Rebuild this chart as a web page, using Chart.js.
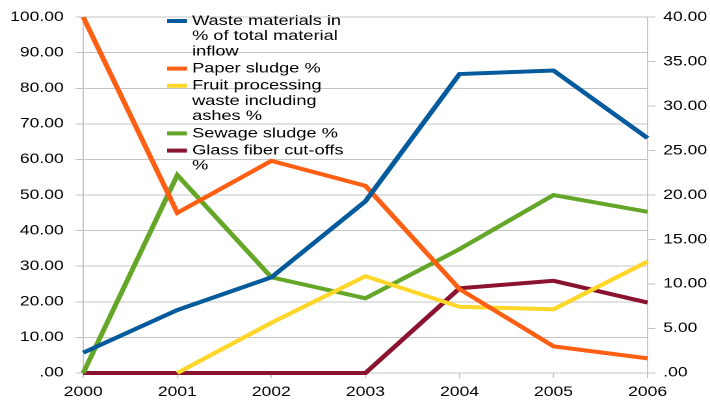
<!DOCTYPE html>
<html>
<head>
<meta charset="utf-8">
<script src="https://cdn.jsdelivr.net/npm/chart.js@4/dist/chart.umd.min.js"></script>
<style>
  html, body { margin: 0; padding: 0; background: #fff; overflow: hidden; }
  #wrap { width: 546px; height: 401px; transform: scaleX(1.3004); transform-origin: 0 0; }
</style>
</head>
<body>
<div id="wrap"><canvas id="c" width="546" height="401"></canvas></div>
<script>
// Years on the category axis
const years = ['2000', '2001', '2002', '2003', '2004', '2005', '2006'];

// Waste materials in % of total material inflow (right axis, 0-40)
const wasteShare = [2.28, 7.08, 10.75, 19.3, 33.6, 34.0, 26.4];
// Composition of the waste materials in % (left axis, 0-100)
const paperSludge = [100, 45.0, 59.6, 52.6, 23.6, 7.5, 4.1];
const fruitWaste = [null, 0, 14.1, 27.2, 18.6, 17.9, 31.3];
const sewageSludge = [0, 55.6, 26.9, 21.0, 34.8, 50.0, 45.3];
const glassFiber = [0, 0, 0, 0, 23.8, 25.9, 19.8];

// Legend text, one array of wrapped lines per series
const seriesNames = [
  ['Waste materials in', '% of total material', 'inflow'],
  ['Paper sludge %'],
  ['Fruit processing', 'waste including', 'ashes %'],
  ['Sewage sludge %'],
  ['Glass fiber cut-offs', '%']
];
const seriesColors = ['#035a9c', '#ff5f12', '#ffd62a', '#64a628', '#8a1330'];

// Axis tick values
const leftTicks = [0, 10, 20, 30, 40, 50, 60, 70, 80, 90, 100];
const rightTicks = [0, 5, 10, 15, 20, 25, 30, 35, 40];

const FONT = '"Liberation Sans", Arial, sans-serif';
const GRID = '#c4c4c4';
const TICK_SIZE = 13.5;

const fmt = v => (v === 0 ? '.00' : Number(v).toFixed(2));

function series(i, data, axis) {
  return {
    label: seriesNames[i].join(' '),
    data: data,
    yAxisID: axis,
    borderColor: seriesColors[i],
    backgroundColor: seriesColors[i],
    borderWidth: 4,
    pointRadius: 0,
    pointHoverRadius: 0,
    tension: 0,
    fill: false,
    clip: false,
    spanGaps: false
  };
}

// Wrapped legend drawn inside the plot area
const wrappedLegend = {
  id: 'wrappedLegend',
  afterDraw(chart) {
    const ctx = chart.ctx;
    ctx.save();
    ctx.font = '14px ' + FONT;
    ctx.textBaseline = 'middle';
    ctx.textAlign = 'left';
    const lineH = 15.2, gap = 2;
    let y = 21;
    seriesNames.forEach((lines, i) => {
      ctx.strokeStyle = seriesColors[i];
      ctx.lineWidth = 4;
      ctx.beginPath();
      ctx.moveTo(128.5, y);
      ctx.lineTo(143.8, y);
      ctx.stroke();
      ctx.fillStyle = '#000';
      lines.forEach((t, k) => ctx.fillText(t, 147.7, y + k * lineH));
      y += lines.length * lineH + gap;
    });
    ctx.restore();
  }
};

new Chart(document.getElementById('c'), {
  type: 'line',
  data: {
    labels: years,
    datasets: [
      series(0, wasteShare, 'y1'),
      series(1, paperSludge, 'y'),
      series(2, fruitWaste, 'y'),
      series(3, sewageSludge, 'y'),
      series(4, glassFiber, 'y')
    ]
  },
  options: {
    responsive: false,
    animation: false,
    devicePixelRatio: 2,
    layout: { padding: { top: 17, right: 0, bottom: 0, left: 0 } },
    plugins: { legend: { display: false }, tooltip: { enabled: false }, title: { display: false } },
    scales: {
      x: {
        type: 'category',
        offset: false,
        grid: { display: true, drawOnChartArea: false, drawTicks: true, tickLength: 5, color: GRID },
        border: { display: true, color: GRID, width: 1 },
        ticks: { color: '#000', font: { family: FONT, size: TICK_SIZE }, padding: 6, maxRotation: 0, autoSkip: false },
        afterFit(scale) { scale.height = 28; }
      },
      y: {
        position: 'left',
        min: 0, max: 100,
        afterBuildTicks(scale) { scale.ticks = leftTicks.map(v => ({ value: v })); },
        grid: { color: GRID, tickLength: 6, drawTicks: true },
        border: { display: true, color: GRID, width: 1 },
        ticks: { color: '#000', font: { family: FONT, size: TICK_SIZE }, padding: 9, callback: v => fmt(v) },
        afterFit(scale) { scale.width = 64; }
      },
      y1: {
        position: 'right',
        min: 0, max: 40,
        afterBuildTicks(scale) { scale.ticks = rightTicks.map(v => ({ value: v })); },
        grid: { drawOnChartArea: false, color: GRID, tickLength: 6, drawTicks: true },
        border: { display: true, color: GRID, width: 1 },
        ticks: { color: '#000', font: { family: FONT, size: TICK_SIZE }, padding: 6, callback: v => fmt(v) },
        afterFit(scale) { scale.width = 48; }
      }
    }
  },
  plugins: [wrappedLegend]
});
</script>
</body>
</html>
